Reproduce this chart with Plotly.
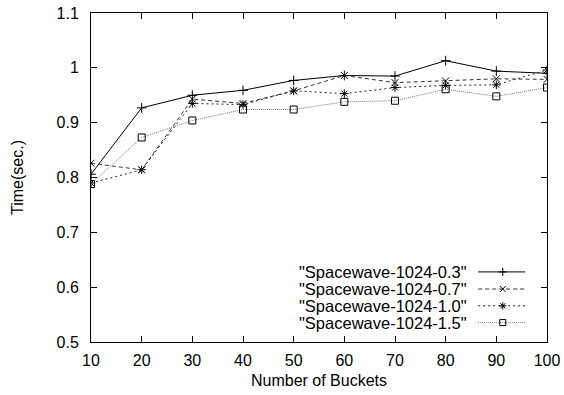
import plotly.graph_objects as go

buckets = [10, 20, 30, 40, 50, 60, 70, 80, 90, 100]
names = ['"Spacewave-1024-0.3"', '"Spacewave-1024-0.7"', '"Spacewave-1024-1.0"', '"Spacewave-1024-1.5"']
s03 = [0.806, 0.927, 0.950, 0.959, 0.977, 0.986, 0.985, 1.013, 0.994, 0.990]
s07 = [0.826, 0.814, 0.943, 0.935, 0.958, 0.986, 0.973, 0.976, 0.980, 0.979]
s10 = [0.790, 0.814, 0.935, 0.933, 0.958, 0.953, 0.964, 0.968, 0.969, 0.996]
s15 = [0.788, 0.873, 0.904, 0.924, 0.924, 0.938, 0.940, 0.961, 0.948, 0.964]
series = [s03, s07, s10, s15]

FONT = "Liberation Sans, Arial"

styles = [
    dict(color="black", dash="solid", width=1, symbol="cross-thin-open"),
    dict(color="#333333", dash="4px,3px", width=1, symbol="x-thin-open"),
    dict(color="#222222", dash="2px,3px", width=1, symbol="asterisk-open"),
    dict(color="#777777", dash="1px,1px", width=1, symbol="square-open"),
]

fig = go.Figure()
for name, ys, st in zip(names, series, styles):
    fig.add_trace(go.Scatter(
        x=buckets, y=ys, mode="lines+markers", name=name, showlegend=False,
        line=dict(color=st["color"], dash=st["dash"], width=st["width"]),
        marker=dict(symbol=st["symbol"], size=7, color="black",
                    line=dict(width=1, color="black")),
    ))

# gnuplot-style key: text right-aligned, sample to its right
leg_y = [0.213, 0.161, 0.110, 0.059]
for i, (name, st) in enumerate(zip(names, styles)):
    fig.add_trace(go.Scatter(
        x=[0.849, 0.952], y=[leg_y[i]] * 2, xaxis="x2", yaxis="y2", mode="lines",
        line=dict(color=st["color"], dash=st["dash"], width=1), showlegend=False, hoverinfo="skip"))
    fig.add_trace(go.Scatter(
        x=[0.903], y=[leg_y[i]], xaxis="x2", yaxis="y2", mode="markers",
        marker=dict(symbol=st["symbol"], size=6, color="black", line=dict(width=1, color="black")),
        showlegend=False, hoverinfo="skip"))
    fig.add_annotation(x=0.826, y=leg_y[i], xref="x2", yref="y2", text=name, showarrow=False,
                       xanchor="right", yanchor="middle", borderpad=0,
                       font=dict(family=FONT, size=16.5, color="black"))

axis_common = dict(showline=True, linecolor="black", linewidth=1, mirror="ticks",
                   ticks="inside", ticklen=6, tickcolor="black", showgrid=False, zeroline=False,
                   automargin=False,
                   tickfont=dict(family=FONT, size=16, color="black"))

fig.update_layout(
    width=564, height=395, margin=dict(l=91, r=17, t=13, b=53),
    plot_bgcolor="white", paper_bgcolor="white",
    xaxis=dict(range=[10, 100], tickvals=buckets,
               title=dict(text="Number of Buckets", standoff=6,
                          font=dict(family=FONT, size=16, color="black")),
               ticklabelstandoff=4, **axis_common),
    yaxis=dict(range=[0.5, 1.1], tickvals=[0.5, 0.6, 0.7, 0.8, 0.9, 1.0, 1.1],
               ticktext=["0.5", "0.6", "0.7", "0.8", "0.9", "1", "1.1"],
               title=dict(text="Time(sec.)", standoff=28,
                          font=dict(family=FONT, size=16, color="black")),
               ticklabelstandoff=8, **axis_common),
    xaxis2=dict(range=[0, 1], domain=[0, 1], overlaying="x", visible=False, anchor="y2"),
    yaxis2=dict(range=[0, 1], domain=[0, 1], overlaying="y", visible=False, anchor="x2"),
    showlegend=False,
)

fig.write_html("out.html")
